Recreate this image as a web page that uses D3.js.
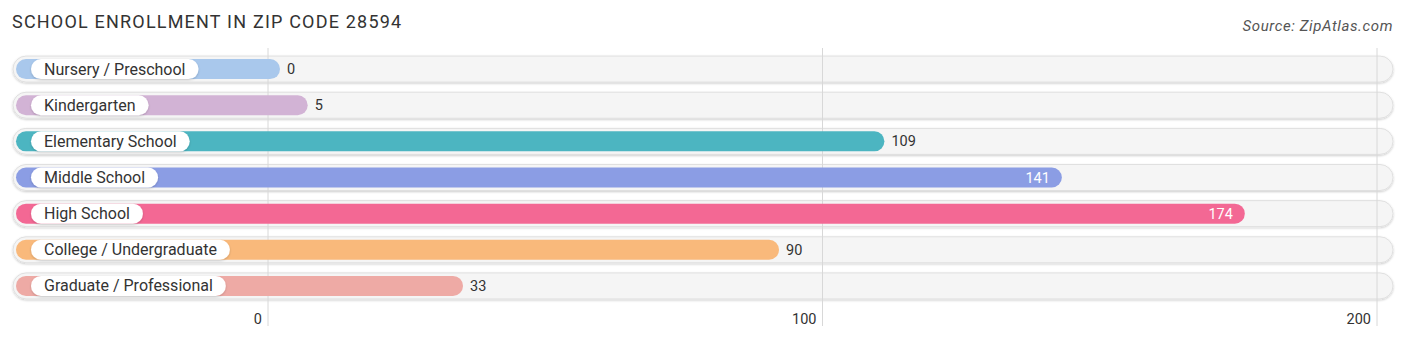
<!DOCTYPE html>
<html>
<head>
<meta charset="utf-8">
<script src="https://cdn.jsdelivr.net/npm/d3@7"></script>
<style>
  body { margin: 0; background: #ffffff; }
  svg { display: block; font-family: Roboto, "Open Sans", sans-serif; }
</style>
</head>
<body>
<div id="chart"></div>
<script>
// data
const categories = ["Nursery / Preschool", "Kindergarten", "Elementary School", "Middle School", "High School", "College / Undergraduate", "Graduate / Professional"];
const values = [0, 5, 109, 141, 174, 90, 33];
const colors = ["#a9c8ec", "#d2b3d5", "#4cb5c1", "#8b9de4", "#f36894", "#f9b97b", "#eeaaa5"];
const ticks = [0, 100, 200];

const width = 1406, height = 341;

const svg = d3.select("#chart")
  .append("svg")
  .attr("width", width)
  .attr("height", height);

const x = d3.scaleLinear().domain([0, 200]).range([268, 1377]);
const y = d3.scaleBand()
  .domain(categories)
  .range([51, 304])
  .paddingInner(0.0);

const rowC = d => y(d) + y.bandwidth() / 2;

const defs = svg.append("defs");
const sh = defs.append("filter").attr("id", "shadow").attr("x", "-5%").attr("y", "-50%").attr("width", "110%").attr("height", "200%");
sh.append("feDropShadow").attr("dx", 0).attr("dy", 1).attr("stdDeviation", 1.2).attr("flood-color", "#000").attr("flood-opacity", 0.2);

// title + source
svg.append("text")
  .attr("x", 12).attr("y", 28)
  .attr("font-size", 18)
  .attr("letter-spacing", 1.2)
  .attr("fill", "#333")
  .text("SCHOOL ENROLLMENT IN ZIP CODE 28594");

svg.append("text")
  .attr("x", 1393).attr("y", 31)
  .attr("text-anchor", "end")
  .attr("font-size", 15)
  .attr("letter-spacing", 0.6)
  .attr("font-style", "italic")
  .attr("fill", "#555")
  .text("Source: ZipAtlas.com");

// background tracks
svg.append("g").selectAll("rect")
  .data(categories)
  .enter().append("rect")
  .attr("x", 13)
  .attr("y", d => rowC(d) - 13)
  .attr("width", 1393 - 13)
  .attr("height", 26)
  .attr("rx", 13)
  .attr("fill", "#f5f5f5")
  .attr("stroke", "#e0e0e0")
  .attr("stroke-width", 1)
  .attr("filter", "url(#shadow)");

// grid
svg.append("g").selectAll("line")
  .data(ticks)
  .enter().append("line")
  .attr("x1", d => x(d)).attr("x2", d => x(d))
  .attr("y1", 48).attr("y2", 326)
  .attr("stroke", "#d8d8d8")
  .attr("stroke-width", 1);

// bars
svg.append("g").selectAll("rect")
  .data(categories)
  .enter().append("rect")
  .attr("x", 16)
  .attr("y", d => rowC(d) - 10)
  .attr("width", (d, i) => x(values[i]) + 12 - 16)
  .attr("height", 20)
  .attr("rx", 10)
  .attr("fill", (d, i) => colors[i]);

// label pills
const labels = svg.append("g").selectAll("g")
  .data(categories)
  .enter().append("g");

labels.append("rect")
  .attr("x", 31)
  .attr("y", d => rowC(d) - 10)
  .attr("height", 20)
  .attr("rx", 10)
  .attr("fill", "#ffffff")
  .attr("filter", "url(#shadow)");

labels.append("text")
  .attr("x", 44)
  .attr("y", d => rowC(d) + 5.5)
  .attr("font-size", 16)
  .attr("fill", "#333")
  .text(d => d);

labels.each(function () {
  const g = d3.select(this);
  const w = g.select("text").node().getComputedTextLength();
  g.select("rect").attr("width", w + 26);
});

// value labels
svg.append("g").selectAll("text")
  .data(categories)
  .enter().append("text")
  .attr("x", (d, i) => values[i] > 120 ? x(values[i]) : x(values[i]) + 19)
  .attr("y", d => rowC(d) + 5)
  .attr("text-anchor", (d, i) => values[i] > 120 ? "end" : "start")
  .attr("font-size", 14.5)
  .attr("fill", (d, i) => values[i] > 120 ? "#ffffff" : "#333")
  .text((d, i) => values[i]);

// axis tick labels
svg.append("g").selectAll("text")
  .data(ticks)
  .enter().append("text")
  .attr("x", d => x(d) - 6)
  .attr("y", 324)
  .attr("text-anchor", "end")
  .attr("font-size", 14.5)
  .attr("fill", "#333")
  .text(d => d);
</script>
</body>
</html>
